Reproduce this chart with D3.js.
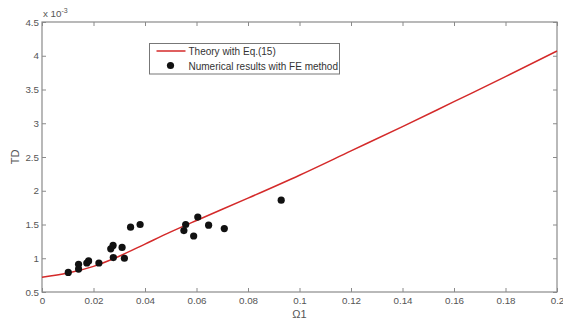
<!DOCTYPE html>
<html>
<head>
<meta charset="utf-8">
<script src="https://cdn.jsdelivr.net/npm/d3@7"></script>
<style>
  body { margin: 0; background: #fff; }
  svg { display: block; font-family: "Liberation Sans", Arial, sans-serif; }
</style>
</head>
<body>
<svg id="chart" width="563" height="320"></svg>
<script>

// theory curve, Eq.(15)
let theoryX = [0, 0.01, 0.02, 0.03, 0.04, 0.05, 0.06, 0.08, 0.1, 0.12, 0.14, 0.16, 0.18, 0.2];
let theoryY = [0.72, 0.78, 0.88, 1.03, 1.21, 1.39, 1.56, 1.89, 2.23, 2.59, 2.95, 3.32, 3.69, 4.07];

// FE results
let feX = [0.0102, 0.0142, 0.0142, 0.0174, 0.0181, 0.0221, 0.0267, 0.0276, 0.0277, 0.0311,
           0.0320, 0.0344, 0.0381, 0.0551, 0.0558, 0.0589, 0.0605, 0.0647, 0.0708, 0.0929];
let feY = [0.79, 0.91, 0.84, 0.93, 0.96, 0.93, 1.14, 1.19, 1.01, 1.16,
           1.00, 1.46, 1.50, 1.41, 1.50, 1.33, 1.61, 1.49, 1.44, 1.86];

let xTicks = [0, 0.02, 0.04, 0.06, 0.08, 0.1, 0.12, 0.14, 0.16, 0.18, 0.2];
let yTicks = [0.5, 1, 1.5, 2, 2.5, 3, 3.5, 4, 4.5];

let legendLabels = ['Theory with Eq.(15)', 'Numerical results with FE method'];

// ##################################################
// #  Layout                                        #
// ##################################################

let margin = { left: 42, top: 22, right: 6, bottom: 28 };
let width = 563, height = 320;
let axisColor = '#8a8a8a';
let textColor = '#555';
let red = '#d42a2a';

let svg = d3.select('#chart');

let x = d3.scaleLinear().domain([0, 0.2]).range([margin.left, width - margin.right]);
let y = d3.scaleLinear().domain([0.5, 4.5]).range([height - margin.bottom, margin.top]);

let tickFmt = d => String(d);

// ##################################################
// #  Axes                                          #
// ##################################################

function styleAxis(g, showLabels) {
    g.select('.domain').remove();
    g.selectAll('.tick line').attr('stroke', axisColor);
    g.selectAll('.tick text')
        .attr('fill', textColor)
        .style('font-size', '9.8px')
        .style('display', showLabels ? null : 'none');
}

svg.append('g')
    .attr('transform', `translate(0,${y(0.5)})`)
    .call(d3.axisBottom(x).tickValues(xTicks).tickFormat(tickFmt).tickSizeInner(-4).tickPadding(5))
    .call(g => styleAxis(g, true));

svg.append('g')
    .attr('transform', `translate(0,${y(4.5)})`)
    .call(d3.axisTop(x).tickValues(xTicks).tickSizeInner(-4))
    .call(g => styleAxis(g, false));

svg.append('g')
    .attr('transform', `translate(${x(0)},0)`)
    .call(d3.axisLeft(y).tickValues(yTicks).tickFormat(tickFmt).tickSizeInner(-4).tickPadding(3))
    .call(g => styleAxis(g, true));

svg.append('g')
    .attr('transform', `translate(${x(0.2)},0)`)
    .call(d3.axisRight(y).tickValues(yTicks).tickSizeInner(-4))
    .call(g => styleAxis(g, false));

// plot frame
svg.append('rect')
    .attr('x', x(0))
    .attr('y', y(4.5))
    .attr('width', x(0.2) - x(0))
    .attr('height', y(0.5) - y(4.5))
    .attr('fill', 'none')
    .attr('stroke', axisColor)
    .attr('stroke-width', 1.2);

// axis titles
svg.append('text')
    .attr('x', x(0.1))
    .attr('y', 317.5)
    .attr('text-anchor', 'middle')
    .attr('fill', textColor)
    .style('font-size', '11px')
    .text('Ω1');

svg.append('text')
    .attr('transform', `translate(19,${(y(0.5) + y(4.5)) / 2}) rotate(-90)`)
    .attr('text-anchor', 'middle')
    .attr('fill', textColor)
    .style('font-size', '11px')
    .text('TD');

let expo = svg.append('text')
    .attr('x', x(0) + 1)
    .attr('y', 17)
    .attr('fill', textColor)
    .style('font-size', '9.8px');
expo.append('tspan').text('x 10');
expo.append('tspan').attr('dy', -4).style('font-size', '7px').text('-3');

// ##################################################
// #  Marks                                         #
// ##################################################

let line = d3.line()
    .x(d => x(d[0]))
    .y(d => y(d[1]))
    .curve(d3.curveMonotoneX);

svg.append('path')
    .datum(d3.zip(theoryX, theoryY))
    .attr('d', line)
    .attr('fill', 'none')
    .attr('stroke', red)
    .attr('stroke-width', 1.5);

svg.append('g')
    .selectAll('circle')
    .data(d3.zip(feX, feY))
    .enter()
    .append('circle')
    .attr('cx', d => x(d[0]))
    .attr('cy', d => y(d[1]))
    .attr('r', 3.6)
    .attr('fill', '#111');

// ##################################################
// #  Legend                                        #
// ##################################################

let legend = svg.append('g').attr('transform', 'translate(149.5,43.5)');

legend.append('rect')
    .attr('width', 190)
    .attr('height', 30.5)
    .attr('fill', '#fff')
    .attr('stroke', '#777')
    .attr('stroke-width', 1);

legend.append('line')
    .attr('x1', 7).attr('x2', 36)
    .attr('y1', 7.5).attr('y2', 7.5)
    .attr('stroke', red)
    .attr('stroke-width', 1.5);

legend.append('circle')
    .attr('cx', 21)
    .attr('cy', 22)
    .attr('r', 3.6)
    .attr('fill', '#111');

legend.selectAll('.label')
    .data(legendLabels)
    .enter()
    .append('text')
    .attr('class', 'label')
    .attr('x', 39)
    .attr('y', (d, i) => 11 + i * 15)
    .attr('fill', '#333')
    .style('font-size', '10px')
    .text(d => d);

</script>
</body>
</html>
